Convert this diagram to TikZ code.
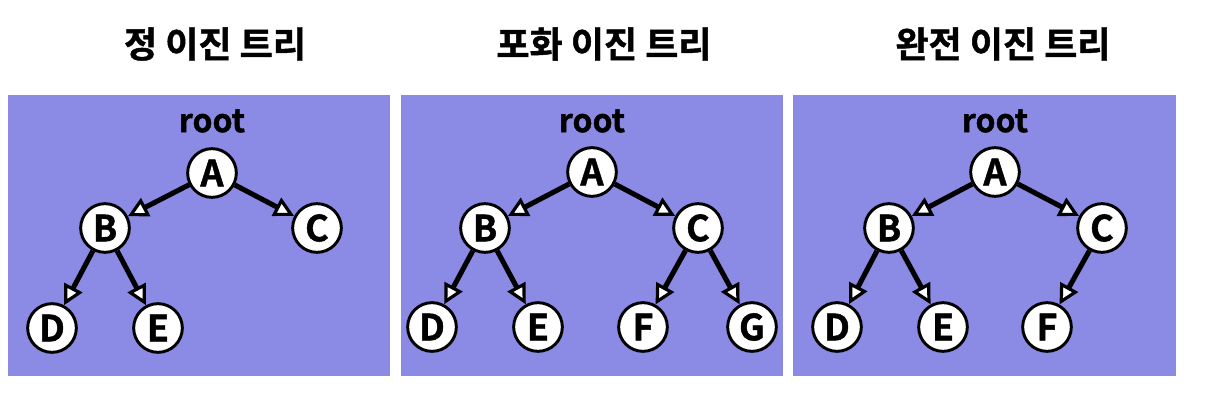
\documentclass[tikz,border=0pt]{standalone}
\usepackage{fontspec}
\setmainfont{Noto Sans CJK KR}[BoldFont={* Bold},BoldFeatures={FakeBold=1.2}]
\usepackage{tikz}
\usetikzlibrary{arrows.meta}
\definecolor{panelblue}{RGB}{139,139,229}
\begin{document}
\begin{tikzpicture}[x=0.75pt,y=-0.75pt,
		vert/.style={circle,draw=black,fill=white,line width=2.2pt,minimum size=36.5pt,inner sep=0pt,font=\fontsize{27}{27}\selectfont\bfseries},
		edge/.style={line width=3.8pt,-{Triangle[fill=white,length=15pt,width=15pt,line width=2.4pt]}},
		title/.style={font=\fontsize{27}{27}\selectfont\bfseries},
		rootlbl/.style={font=\fontsize{24}{24}\selectfont\bfseries}]
		% Bounding box
		\useasboundingbox (0,0) rectangle (1208,400);
		% Panels
		\fill[panelblue] (8,95) rectangle (390,376);
		\fill[panelblue] (401,95) rectangle (783,376);
		\fill[panelblue] (793,95) rectangle (1176,376);
		% Titles
		\node[title] (t1) at (215,44) {정 이진 트리};
		\node[title] (t2) at (604,44) {포화 이진 트리};
		\node[title] (t3) at (1003,44) {완전 이진 트리};
		% Proper binary tree
		\node[rootlbl] (r1) at (212,121) {root};
		\node[vert] (a1) at (212,173) {A};
		\node[vert] (b1) at (105,228) {B};
		\node[vert] (c1) at (317,228) {C};
		\node[vert] (d1) at (52,328) {D};
		\node[vert] (e1) at (158,328) {E};
		\foreach \p/\c in {a1/b1,a1/c1,b1/d1,b1/e1}{
				\draw[edge] (\p)--(\c);
			}
		% Perfect binary tree
		\node[rootlbl] (r2) at (592,121) {root};
		\node[vert] (a2) at (592,172) {A};
		\node[vert] (b2) at (485,228) {B};
		\node[vert] (c2) at (698,228) {C};
		\node[vert] (d2) at (432,327) {D};
		\node[vert] (e2) at (538,327) {E};
		\node[vert] (f2) at (643,327) {F};
		\node[vert] (g2) at (752,327) {G};
		\foreach \p/\c in {a2/b2,a2/c2,b2/d2,b2/e2,c2/f2,c2/g2}{
				\draw[edge] (\p)--(\c);
			}
		% Complete binary tree
		\node[rootlbl] (r3) at (995,121) {root};
		\node[vert] (a3) at (995,172) {A};
		\node[vert] (b3) at (889,228) {B};
		\node[vert] (c3) at (1102,228) {C};
		\node[vert] (d3) at (837,327) {D};
		\node[vert] (e3) at (943,327) {E};
		\node[vert] (f3) at (1047,327) {F};
		\foreach \p/\c in {a3/b3,a3/c3,b3/d3,b3/e3,c3/f3}{
				\draw[edge] (\p)--(\c);
			}
	\end{tikzpicture}
\end{document}
